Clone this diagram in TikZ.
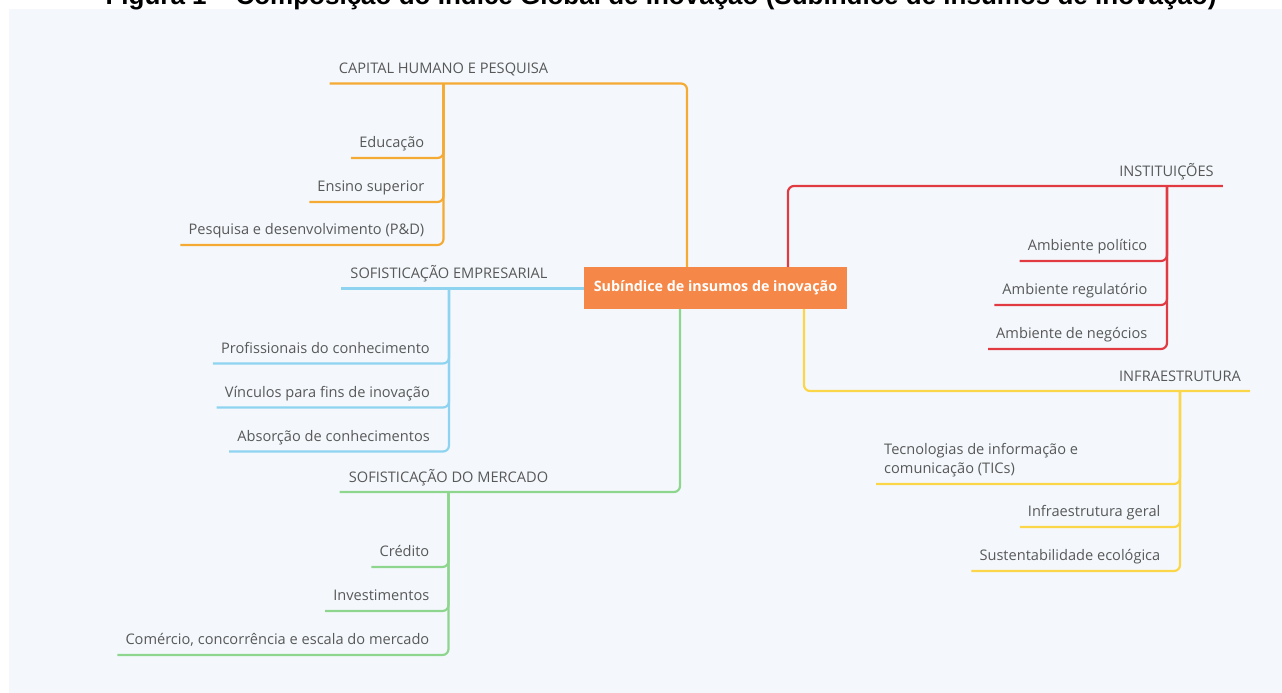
\documentclass[tikz,border=0pt]{standalone}
\usepackage{fontspec}
\setmainfont{Open Sans}
\newfontfamily\titlefont{Liberation Sans}
\usetikzlibrary{calc}
\definecolor{panel}{RGB}{244,248,252}
\definecolor{txt}{RGB}{88,88,88}
\definecolor{rootc}{RGB}{245,136,72}
\definecolor{corange}{RGB}{245,170,52}
\definecolor{cred}{RGB}{226,58,66}
\definecolor{cblue}{RGB}{142,212,240}
\definecolor{cgreen}{RGB}{142,214,142}
\definecolor{cyellow}{RGB}{250,214,72}
\tikzset{
  lbl/.style={font=\fontsize{14.6}{19}\selectfont, text=txt, inner xsep=8pt, inner ysep=0pt},
  cat/.style={lbl, inner xsep=9pt, anchor=base},
  leaf/.style={lbl, anchor=base east},
  br/.style={line width=2.2pt, rounded corners=6pt},
  rootbox/.style={fill=rootc, text=white, font=\fontsize{14.3}{16}\selectfont\bfseries,
    minimum width=263pt, minimum height=42pt, inner sep=0pt},
  titlest/.style={font=\titlefont\fontsize{26}{30}\selectfont\bfseries, anchor=base, inner sep=0pt}
}
\begin{document}
\begin{tikzpicture}[x=1pt,y=-1pt]
\useasboundingbox (0,0) rectangle (1282,693);
\fill[panel] (9,9) rectangle (1282,693);
\node[titlest] (title) at (661,5) {Figura 1 – Composição do Índice Global de Inovação (Subíndice de insumos de inovação)};

% root
\node[rootbox] (root) at (715.5,288) {Subíndice de insumos de inovação};

% ---------- Capital humano e pesquisa (orange)
\node[cat] (cap) at (443.5,73.5) {CAPITAL HUMANO E PESQUISA};
\coordinate (capT) at (443.5,83.5);
\draw[br,corange] (cap.west |- capT) -| ([xshift=-28.5pt]root.north);
\node[leaf] (edu) at (432.5,147.5) {Educação};
\node[leaf] (ens) at (432.5,191.5) {Ensino superior};
\node[leaf] (pd) at (432.5,234.5) {Pesquisa e desenvolvimento (P\&D)};
\foreach \n in {edu,ens,pd}
  \draw[br,corange] ([yshift=-10.5pt]\n.base west) -| (capT);

% ---------- Sofisticação empresarial (blue)
\node[cat] (emp) at (449,278.5) {SOFISTICAÇÃO EMPRESARIAL};
\coordinate (empT) at (449,288.5);
\draw[br,cblue] (emp.west |- empT) -- (root.west |- empT);
\node[leaf] (prof) at (438,353) {Profissionais do conhecimento};
\node[leaf] (vinc) at (438,397) {Vínculos para fins de inovação};
\node[leaf] (abs) at (438,441) {Absorção de conhecimentos};
\foreach \n in {prof,vinc,abs}
  \draw[br,cblue] ([yshift=-10.5pt]\n.base west) -| (empT);

% ---------- Sofisticação do mercado (green)
\node[cat] (mer) at (448.5,482) {SOFISTICAÇÃO DO MERCADO};
\coordinate (merT) at (448.5,492);
\draw[br,cgreen] (mer.west |- merT) -| ([xshift=-35.5pt]root.south);
\node[leaf] (cred) at (437.5,556.5) {Crédito};
\node[leaf] (inv) at (437.5,600.5) {Investimentos};
\node[leaf] (com) at (437.5,644.5) {Comércio, concorrência e escala do mercado};
\foreach \n in {cred,inv,com}
  \draw[br,cgreen] ([yshift=-10.5pt]\n.base west) -| (merT);

% ---------- Instituições (red)
\node[cat] (inst) at (1166.5,176) {INSTITUIÇÕES};
\coordinate (instT) at (1167,186);
\draw[br,cred] (inst.east |- instT) -| ([xshift=72.5pt]root.north);
\node[leaf] (pol) at (1155.5,250.5) {Ambiente político};
\node[leaf] (reg) at (1155.5,294.5) {Ambiente regulatório};
\node[leaf] (neg) at (1155.5,338.5) {Ambiente de negócios};
\foreach \n in {pol,reg,neg}
  \draw[br,cred] ([yshift=-10.5pt]\n.base west) -| (instT);

% ---------- Infraestrutura (yellow)
\node[cat] (inf) at (1180,381) {INFRAESTRUTURA};
\coordinate (infT) at (1180,391);
\draw[br,cyellow] (inf.east |- infT) -| ([xshift=88.5pt]root.south);
\node[lbl, align=left, anchor=south west, text depth=0pt] (tic) at (876,473.5)
  {Tecnologias de informação e\\comunicação (TICs)};
\node[leaf] (ger) at (1168.5,516.5) {Infraestrutura geral};
\node[leaf] (sus) at (1168.5,560.5) {Sustentabilidade ecológica};
\draw[br,cyellow] ([yshift=-10.5pt]tic.south west) -| (infT);
\foreach \n in {ger,sus}
  \draw[br,cyellow] ([yshift=-10.5pt]\n.base west) -| (infT);
\end{tikzpicture}
\end{document}
